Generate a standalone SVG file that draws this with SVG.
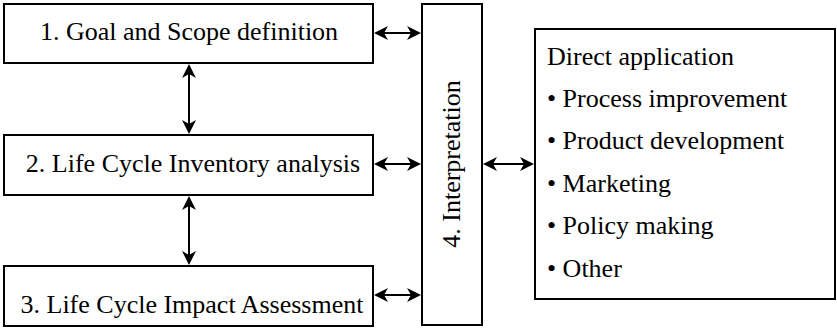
<svg xmlns="http://www.w3.org/2000/svg" width="837" height="329" viewBox="0 0 837 329">
<style>
.box{fill:#fff;stroke:#000;stroke-width:2}
.t{font-family:"Liberation Serif","Times New Roman",serif;font-size:26px;fill:#000}
.c{stroke:#000;stroke-width:2;fill:none}
</style>
<defs>
<path id="h" d="M0,0 L-14,-7 L-10,0 L-14,7 Z" fill="#000"/>
</defs>
<rect width="837" height="329" fill="#fff"/>
<g id="connectors">
<path class="c" d="M189,70 V128"/>
<use href="#h" transform="translate(189,64) rotate(-90)"/>
<use href="#h" transform="translate(189,134) rotate(90)"/>
<path class="c" d="M189,202 V259"/>
<use href="#h" transform="translate(189,196) rotate(-90)"/>
<use href="#h" transform="translate(189,265) rotate(90)"/>
<path class="c" d="M380,33 H415"/>
<use href="#h" transform="translate(374,33) rotate(180)"/>
<use href="#h" transform="translate(421,33)"/>
<path class="c" d="M380,164 H415"/>
<use href="#h" transform="translate(374,164) rotate(180)"/>
<use href="#h" transform="translate(421,164)"/>
<path class="c" d="M380,295 H415"/>
<use href="#h" transform="translate(374,295) rotate(180)"/>
<use href="#h" transform="translate(421,295)"/>
<path class="c" d="M489,164 H528"/>
<use href="#h" transform="translate(483,164) rotate(180)"/>
<use href="#h" transform="translate(534,164)"/>
</g>
<g id="goal">
<rect class="box" x="4" y="4" width="369" height="59"/>
<text class="t" x="189" y="40" text-anchor="middle">1. Goal and Scope definition</text>
</g>
<g id="inventory">
<rect class="box" x="4" y="135" width="369" height="60"/>
<text class="t" x="193" y="172" text-anchor="middle">2. Life Cycle Inventory analysis</text>
</g>
<g id="impact">
<rect class="box" x="4" y="266" width="369" height="60"/>
<text class="t" x="192" y="313" text-anchor="middle">3. Life Cycle Impact Assessment</text>
</g>
<g id="interpretation">
<rect class="box" x="422" y="4" width="60" height="321"/>
<text class="t" transform="translate(460,164) rotate(-90)" text-anchor="middle">4. Interpretation</text>
</g>
<g id="direct">
<rect class="box" x="535" y="29" width="300" height="270"/>
<text class="t" x="547" y="65">Direct application</text>
<text class="t" x="547" y="107">• Process improvement</text>
<text class="t" x="547" y="149">• Product development</text>
<text class="t" x="547" y="192">• Marketing</text>
<text class="t" x="547" y="234">• Policy making</text>
<text class="t" x="547" y="277">• Other</text>
</g>
</svg>
